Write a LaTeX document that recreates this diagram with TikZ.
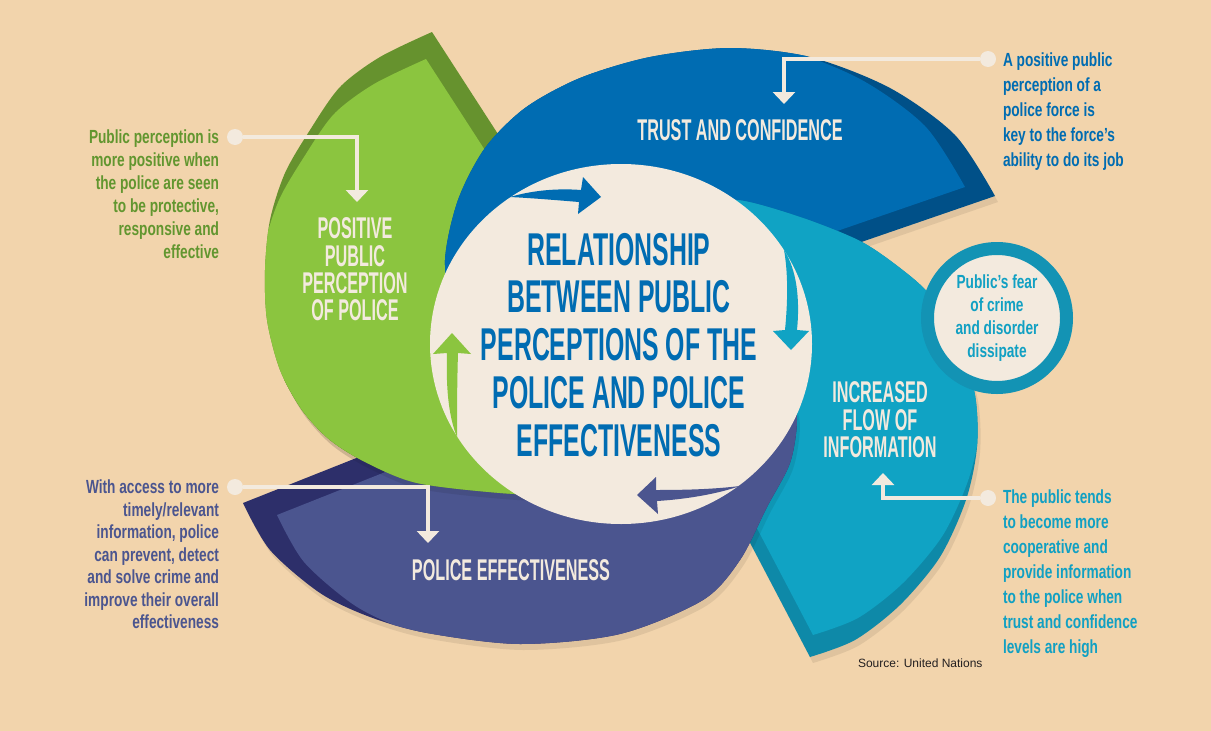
\documentclass[tikz,border=0pt]{standalone}
\usepackage{fontspec}
\setmainfont{Liberation Sans}
\newfontfamily\headfont[FakeStretch=0.54]{Liberation Sans}
\newfontfamily\notefont[FakeStretch=0.72]{Liberation Sans}
\usetikzlibrary{arrows.meta}

\definecolor{bg}{RGB}{242,212,172}
\definecolor{cream}{RGB}{243,234,222}
\definecolor{grnlt}{RGB}{139,197,63}
\definecolor{grndk}{RGB}{102,146,46}
\definecolor{blult}{RGB}{0,108,178}
\definecolor{bludk}{RGB}{0,80,136}
\definecolor{teallt}{RGB}{16,163,196}
\definecolor{tealdk}{RGB}{14,137,168}
\definecolor{ring}{RGB}{19,147,180}
\definecolor{purlt}{RGB}{75,85,143}
\definecolor{purdk}{RGB}{45,47,106}
\definecolor{grntxt}{RGB}{98,150,47}
\definecolor{tealtxt}{RGB}{17,160,195}
\definecolor{srctxt}{RGB}{35,31,32}

% petal outlines, pixel coordinates (y runs down)
\newcommand{\greenleaf}{plot[smooth] coordinates {(432,32) (380,57) (340,87) (310,130) (285,173) (270,220) (265,270) (267,320) (280,370) (302,410) (330,440) (367,463) (417,483) (500,493) (580,497)} -- (621,344) -- (560,230) -- cycle}
\newcommand{\blueleaf}{plot[smooth] coordinates {(995,196) (955,135) (890,88) (810,57) (730,48) (650,57) (580,78) (525,108) (485,148) (458,200) (445,260) (452,320)} -- (621,344) -- (780,270) -- cycle}
\newcommand{\tealleaf}{plot[smooth] coordinates {(810,657) (855,640) (900,605) (940,557) (966,500) (977,447) (975,395) (958,340) (930,295) (900,268) (860,241) (800,217) (737,200) (700,210)} -- (621,344) -- (715,476) -- cycle}
\newcommand{\purpleleaf}{plot[smooth] coordinates {(243,503) (270,550) (320,593) (370,617) (427,633) (520,644) (620,634) (703,600) (740,560) (767,507) (790,463) (797,420) (790,390)} -- (621,344) -- (500,401) -- cycle}

% dark petal with its lighter face shifted inside
\newcommand{\petal}[4]{%
  \fill[black,opacity=0.08,shift={(3,6)}] #4;
  \fill[#1] #4;
  \begin{scope}
    \clip #4;
    \fill[#2,shift={#3}] #4;
  \end{scope}}

\begin{document}
\begin{tikzpicture}[x=1pt,y=-1pt,
  every node/.style={inner sep=0,outer sep=0},
  titletxt/.style={font=\headfont\bfseries\fontsize{46}{47.8}\selectfont,text=blult,align=center},
  headtxt/.style={font=\headfont\bfseries\fontsize{30}{27.3}\selectfont,text=cream,align=center},
  notetxt/.style={font=\notefont\bfseries\fontsize{19}{23}\selectfont},
  notewide/.style={font=\notefont\bfseries\fontsize{19}{25}\selectfont},
  pindot/.style={circle,fill=cream,minimum size=16pt},
  callout/.style={draw=cream,line width=4pt,-{Triangle[width=22pt,length=12pt]}}]
  \useasboundingbox (0,0) rectangle (1211,731);
  \fill[bg] (0,0) rectangle (1211,731);

  % pinwheel
  \petal{grndk}{grnlt}{(-6,27)}{\greenleaf}
  \petal{bludk}{blult}{(-30,-9)}{\blueleaf}
  \petal{tealdk}{teallt}{(3,-22)}{\tealleaf}
  \petal{purdk}{purlt}{(34,12)}{\purpleleaf}
  \begin{scope}
    \clip (0,380) rectangle (560,731);
    \petal{grndk}{grnlt}{(-6,27)}{\greenleaf}
  \end{scope}
  \fill[cream] (621,344) ellipse [x radius=191,y radius=180];

  % cycle arrows
  \fill[blult] (510,197) .. controls (530,191) and (555,188) .. (581,190) -- (583,177) -- (601,197)
    -- (578,214) -- (579,202) .. controls (555,200) and (530,198) .. (510,197) -- cycle;
  \fill[teallt] (784,250) .. controls (797,270) and (800,300) .. (797,330) -- (809,331) -- (791,350)
    -- (773,331) -- (785,330) .. controls (788,300) and (788,272) .. (784,250) -- cycle;
  \fill[purlt] (740,486) .. controls (715,489) and (690,490) .. (656,490) -- (656,477) -- (637,495)
    -- (658,514) -- (657,501) .. controls (690,499) and (720,493) .. (740,486) -- cycle;
  \fill[grnlt] (457,437) .. controls (448,415) and (446,385) .. (447,353) -- (433,354) -- (452,333)
    -- (471,354) -- (458,353) .. controls (457,385) and (457,415) .. (457,437) -- cycle;

  \node[titletxt,anchor=north] (rel) at (619,233) {RELATIONSHIP\\BETWEEN PUBLIC\\PERCEPTIONS OF THE\\POLICE AND POLICE\\EFFECTIVENESS};
  \node[headtxt,anchor=north] (trust) at (740,120) {TRUST AND CONFIDENCE};
  \node[headtxt,anchor=north] (percep) at (355,218) {POSITIVE\\PUBLIC\\PERCEPTION\\OF POLICE};
  \node[headtxt,anchor=north] (flow) at (880,382) {INCREASED\\FLOW OF\\INFORMATION};
  \node[headtxt,anchor=north] (effect) at (511,560) {POLICE EFFECTIVENESS};

  \node[circle,draw=ring,line width=13pt,fill=cream,minimum size=139pt,notetxt,text=tealtxt,align=center] (fear) at (997,318) {Public’s fear\\of crime\\and disorder\\dissipate};

  \node[notetxt,text=grntxt,align=right,anchor=north east] (gnote) at (219,130) {Public perception is\\more positive when\\the police are seen\\to be protective,\\responsive and\\effective};
  \node[notewide,text=blult,align=left,anchor=north west] (bnote) at (1003,53) {A positive public\\perception of a\\police force is\\key to the force’s\\ability to do its job};
  \node[notetxt,font=\notefont\bfseries\fontsize{19}{22.5}\selectfont,text=purlt,align=right,anchor=north east] (pnote) at (219,480) {With access to more\\timely/relevant\\information, police\\can prevent, detect\\and solve crime and\\improve their overall\\effectiveness};
  \node[notewide,text=tealtxt,align=left,anchor=north west] (tnote) at (1003,490) {The public tends\\to become more\\cooperative and\\provide information\\to the police when\\trust and confidence\\levels are high};
  \node[font=\fontsize{12}{14}\selectfont,text=srctxt,anchor=base west] (src) at (858,667) {Source: United Nations};

  % callouts
  \node[pindot] (gdot) at (235,137) {};
  \node[pindot] (bdot) at (988,59) {};
  \node[pindot] (pdot) at (235,487) {};
  \node[pindot] (tdot) at (988,498) {};
  \coordinate (gtip) at (357,202);
  \coordinate (btip) at (784,104);
  \coordinate (ptip) at (428,543);
  \coordinate (ttip) at (883,473);
  \draw[callout] (gdot) -| (gtip);
  \draw[callout] (bdot) -| (btip);
  \draw[callout] (pdot) -| (ptip);
  \draw[callout] (tdot) -| (ttip);
\end{tikzpicture}
\end{document}
